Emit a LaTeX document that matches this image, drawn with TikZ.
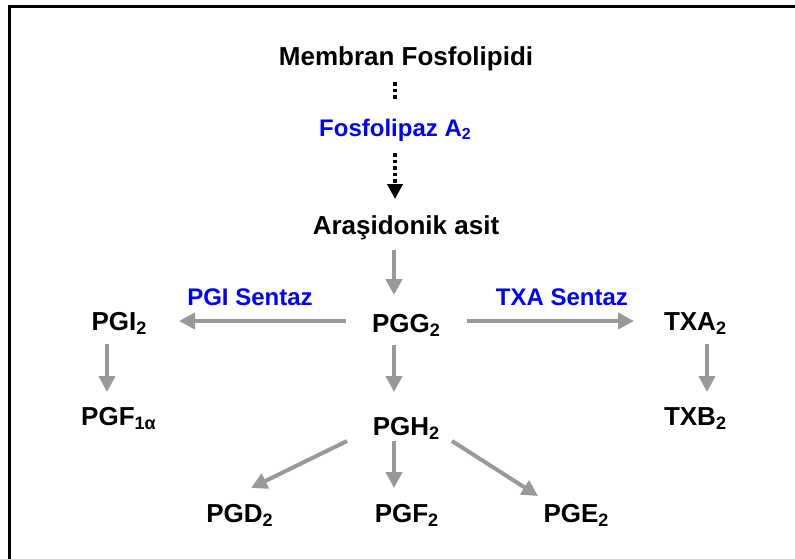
\documentclass[tikz,border=0pt]{standalone}
\usepackage{fontspec}
\setmainfont{Liberation Sans}
\usetikzlibrary{arrows.meta}
\definecolor{arrgray}{RGB}{153,153,153}
\definecolor{lblue}{RGB}{0,0,255}
\newcommand{\sbs}[1]{\raisebox{-4pt}{\fontsize{18}{18}\selectfont #1}}
\newcommand{\sbsl}[1]{\raisebox{-3.5pt}{\fontsize{16}{16}\selectfont #1}}
\begin{document}
\begin{tikzpicture}[x=1pt,y=-1pt,
 txt/.style={inner sep=0pt, outer sep=0pt, anchor=base, font=\fontsize{26}{30}\selectfont\bfseries},
 lbl/.style={txt, font=\fontsize{24}{28}\selectfont\bfseries, text=lblue},
 garrow/.style={draw=arrgray, line width=4pt, -{Triangle[length=16pt,width=16pt]}},
 dotline/.style={draw=black, line width=4pt, dash pattern=on 3.5pt off 3pt},
]
\useasboundingbox (0,0) rectangle (795,558);
\draw[line width=2.7pt] (9.5,560) -- (9.5,6.3) -- (797,6.3);

\node[txt] (Mem) at (406,65) {Membran Fosfolipidi};
\node[lbl] (Fos) at (395,136) {Fosfolipaz A\sbsl{2}};
\node[txt] (Ara) at (406,234) {Araşidonik asit};
\node[txt] (PGG) at (406,332) {PGG\sbs{2}};
\node[txt] (PGH) at (406,435) {PGH\sbs{2}};
\node[txt] (PGI) at (119,330) {PGI\sbs{2}};
\node[txt] (PGFa) at (118.5,425) {PGF\sbs{1α}};
\node[txt] (TXA) at (695,330) {TXA\sbs{2}};
\node[txt] (TXB) at (695,425) {TXB\sbs{2}};
\node[txt] (PGD) at (239.5,522) {PGD\sbs{2}};
\node[txt] (PGF) at (406.5,522) {PGF\sbs{2}};
\node[txt] (PGE) at (576,522) {PGE\sbs{2}};
\node[lbl] (PGIS) at (250,305) {PGI Sentaz};
\node[lbl] (TXAS) at (562,305) {TXA Sentaz};

\draw[dotline] ([xshift=-11pt,yshift=-17pt]Mem.base) -- ([yshift=36pt]Fos.base);
\draw[dotline,-{Triangle[length=15pt,width=15pt]}] ([yshift=-17pt]Fos.base) -- ([xshift=-11pt,yshift=35pt]Ara.base);

\draw[garrow] ([xshift=-12pt,yshift=-16pt]Ara.base) -- ([xshift=-12pt,yshift=37pt]PGG.base);
\draw[garrow] ([xshift=-12pt,yshift=-13pt]PGG.base) -- ([xshift=-12pt,yshift=43pt]PGH.base);
\draw[garrow] ([xshift=-60pt,yshift=11pt]PGG.base) -- ([xshift=60pt,yshift=9pt]PGI.base);
\draw[garrow] ([xshift=61pt,yshift=11pt]PGG.base) -- ([xshift=-61pt,yshift=9pt]TXA.base);
\draw[garrow] ([xshift=-12pt,yshift=-14pt]PGI.base) -- ([xshift=-11.5pt,yshift=33pt]PGFa.base);
\draw[garrow] ([xshift=12pt,yshift=-14pt]TXA.base) -- ([xshift=12pt,yshift=33pt]TXB.base);
\draw[garrow] ([xshift=-59pt,yshift=-6pt]PGH.base) -- ([xshift=11.5pt,yshift=34pt]PGD.base);
\draw[garrow] ([xshift=-12pt,yshift=-6pt]PGH.base) -- ([xshift=-12.5pt,yshift=34pt]PGF.base);
\draw[garrow] ([xshift=46pt,yshift=-6pt]PGH.base) -- ([xshift=-38pt,yshift=26pt]PGE.base);
\end{tikzpicture}
\end{document}
